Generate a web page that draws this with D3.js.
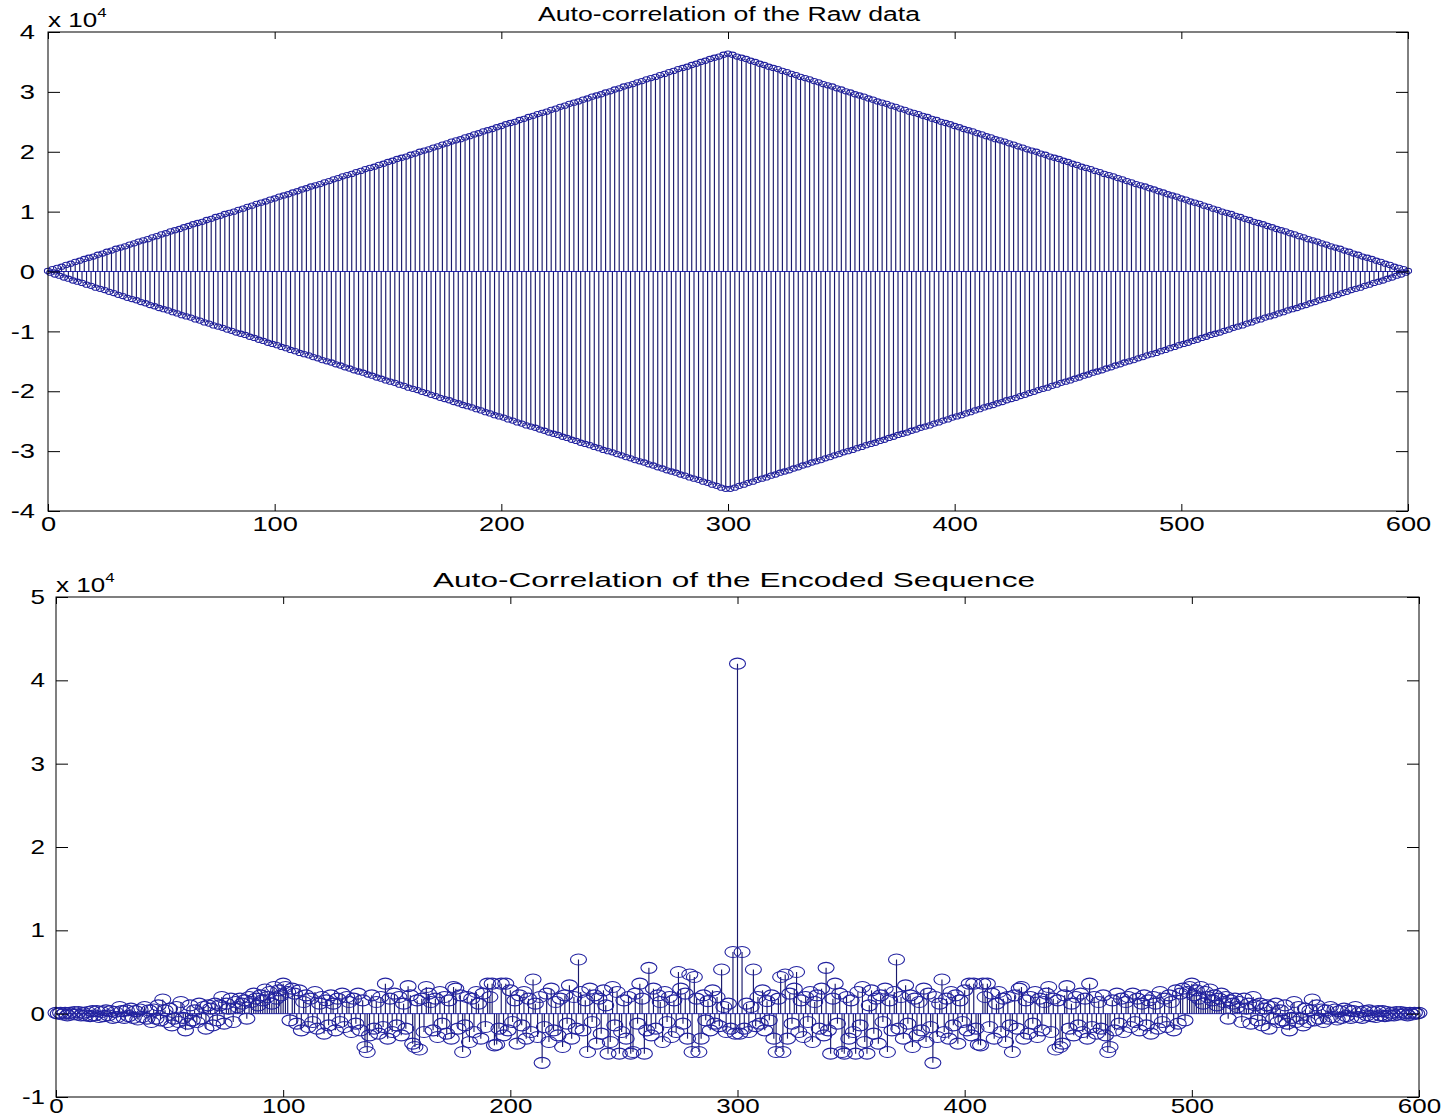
<!DOCTYPE html>
<html>
<head>
<meta charset="utf-8">
<script src="https://cdn.jsdelivr.net/npm/d3@7"></script>
<style>
  body { margin: 0; background: #fff; }
  svg { display: block; font-family: "Liberation Sans", Arial, sans-serif; }
</style>
</head>
<body>
<div id="chart"></div>
<script>
// values in units of 10^4, indexed by lag 0..300 (autocorrelation is symmetric about n = 300)
const rawLagValues = [
  3.64, -3.63, 3.62, -3.61, 3.59, -3.58, 3.57, -3.56, 3.55, -3.53,
  3.52, -3.51, 3.50, -3.48, 3.47, -3.46, 3.45, -3.44, 3.42, -3.41,
  3.40, -3.39, 3.38, -3.36, 3.35, -3.34, 3.33, -3.32, 3.30, -3.29,
  3.28, -3.27, 3.25, -3.24, 3.23, -3.22, 3.21, -3.19, 3.18, -3.17,
  3.16, -3.15, 3.13, -3.12, 3.11, -3.10, 3.09, -3.07, 3.06, -3.05,
  3.04, -3.02, 3.01, -3.00, 2.99, -2.98, 2.96, -2.95, 2.94, -2.93,
  2.92, -2.90, 2.89, -2.88, 2.87, -2.86, 2.84, -2.83, 2.82, -2.81,
  2.80, -2.78, 2.77, -2.76, 2.75, -2.73, 2.72, -2.71, 2.70, -2.69,
  2.67, -2.66, 2.65, -2.64, 2.63, -2.61, 2.60, -2.59, 2.58, -2.57,
  2.55, -2.54, 2.53, -2.52, 2.50, -2.49, 2.48, -2.47, 2.46, -2.44,
  2.43, -2.42, 2.41, -2.40, 2.38, -2.37, 2.36, -2.35, 2.34, -2.32,
  2.31, -2.30, 2.29, -2.27, 2.26, -2.25, 2.24, -2.23, 2.21, -2.20,
  2.19, -2.18, 2.17, -2.15, 2.14, -2.13, 2.12, -2.11, 2.09, -2.08,
  2.07, -2.06, 2.04, -2.03, 2.02, -2.01, 2.00, -1.98, 1.97, -1.96,
  1.95, -1.94, 1.92, -1.91, 1.90, -1.89, 1.88, -1.86, 1.85, -1.84,
  1.83, -1.82, 1.80, -1.79, 1.78, -1.77, 1.75, -1.74, 1.73, -1.72,
  1.71, -1.69, 1.68, -1.67, 1.66, -1.65, 1.63, -1.62, 1.61, -1.60,
  1.59, -1.57, 1.56, -1.55, 1.54, -1.52, 1.51, -1.50, 1.49, -1.48,
  1.46, -1.45, 1.44, -1.43, 1.42, -1.40, 1.39, -1.38, 1.37, -1.36,
  1.34, -1.33, 1.32, -1.31, 1.29, -1.28, 1.27, -1.26, 1.25, -1.23,
  1.22, -1.21, 1.20, -1.19, 1.17, -1.16, 1.15, -1.14, 1.13, -1.11,
  1.10, -1.09, 1.08, -1.06, 1.05, -1.04, 1.03, -1.02, 1.00, -0.99,
  0.98, -0.97, 0.96, -0.94, 0.93, -0.92, 0.91, -0.90, 0.88, -0.87,
  0.86, -0.85, 0.83, -0.82, 0.81, -0.80, 0.79, -0.77, 0.76, -0.75,
  0.74, -0.73, 0.71, -0.70, 0.69, -0.68, 0.67, -0.65, 0.64, -0.63,
  0.62, -0.61, 0.59, -0.58, 0.57, -0.56, 0.54, -0.53, 0.52, -0.51,
  0.50, -0.48, 0.47, -0.46, 0.45, -0.44, 0.42, -0.41, 0.40, -0.39,
  0.38, -0.36, 0.35, -0.34, 0.33, -0.31, 0.30, -0.29, 0.28, -0.27,
  0.25, -0.24, 0.23, -0.22, 0.21, -0.19, 0.18, -0.17, 0.16, -0.15,
  0.13, -0.12, 0.11, -0.10, 0.08, -0.07, 0.06, -0.05, 0.04, -0.02,
  0.01
];

const encodedLagValues = [
  4.20, -0.24, 0.74, -0.18, 0.12, -0.22, 0.08, 0.53, -0.15, 0.20,
  -0.12, 0.28, -0.20, 0.15, -0.08, 0.22, -0.30, -0.46, 0.18, 0.44,
  -0.46, 0.47, -0.30, 0.24, -0.12, 0.30, 0.50, -0.22, 0.16, -0.28,
  0.20, -0.10, 0.26, -0.34, 0.14, 0.22, -0.18, 0.30, -0.26, 0.55,
  -0.20, -0.48, 0.18, 0.36, -0.12, 0.24, -0.46, -0.48, 0.20, -0.30,
  0.16, -0.22, -0.48, 0.26, -0.14, 0.32, -0.34, -0.48, 0.10, 0.28,
  -0.24, 0.18, -0.36, 0.22, -0.10, 0.30, -0.46, 0.16, -0.20, 0.26,
  0.65, -0.18, 0.20, -0.30, 0.34, -0.12, 0.22, -0.40, 0.18, -0.26,
  0.14, -0.20, 0.30, -0.34, 0.24, -0.16, -0.59, 0.20, -0.28, 0.12,
  0.41, -0.22, 0.18, -0.30, 0.26, -0.14, 0.22, -0.36, 0.16, -0.10,
  0.28, -0.20, 0.36, -0.26, 0.36, -0.18, -0.37, -0.38, 0.36, 0.20,
  0.36, -0.16, 0.24, -0.30, 0.12, 0.26, -0.22, 0.18, -0.34, 0.20,
  -0.14, -0.46, 0.22, -0.18, 0.30, 0.32, -0.30, 0.16, -0.24, 0.20,
  -0.12, 0.26, -0.28, 0.18, -0.20, 0.14, 0.24, 0.32, -0.22, 0.18,
  -0.43, 0.16, -0.40, -0.36, 0.22, 0.33, -0.18, 0.12, -0.26, 0.20,
  -0.14, 0.24, -0.22, 0.18, -0.30, 0.36, -0.16, 0.20, -0.24, 0.14,
  -0.18, 0.22, -0.26, -0.46, -0.40, 0.16, -0.20, 0.24, -0.12, 0.18,
  -0.22, 0.14, 0.20, -0.16, 0.24, -0.10, 0.18, -0.20, 0.12, 0.22,
  -0.14, 0.16, -0.24, 0.20, 0.12, -0.18, 0.26, -0.10, 0.18, -0.16,
  0.22, 0.14, -0.20, 0.28, -0.12, 0.24, 0.30, -0.08, 0.26, 0.32,
  0.36, 0.22, 0.28, 0.18, 0.32, 0.12, 0.26, 0.20, 0.29, 0.16,
  0.22, 0.10, 0.18, 0.24, 0.14, 0.20, -0.06, 0.16, 0.12, 0.18,
  0.08, 0.14, -0.10, 0.18, 0.06, 0.12, -0.12, 0.20, 0.10, -0.08,
  0.12, -0.14, 0.06, 0.10, -0.18, 0.08, -0.06, 0.12, -0.10, 0.04,
  -0.08, 0.10, -0.12, -0.20, -0.05, 0.14, -0.10, 0.08, -0.06, -0.14,
  0.06, -0.10, 0.04, 0.17, -0.08, 0.10, -0.06, 0.05, -0.10, 0.04,
  -0.06, 0.08, -0.04, 0.05, -0.07, 0.03, -0.05, 0.06, -0.03, 0.04,
  -0.05, 0.03, 0.08, -0.04, 0.02, -0.05, 0.03, -0.02, 0.04, -0.03,
  0.02, -0.04, 0.03, -0.02, 0.03, -0.03, 0.02, -0.02, 0.01, -0.02,
  0.02, -0.01, 0.02, -0.01, 0.01, -0.02, 0.01, -0.01, 0.01, 0.00,
  0.01
];

const xTicks = [0, 100, 200, 300, 400, 500, 600];
const rawYTicks = [-4, -3, -2, -1, 0, 1, 2, 3, 4];
const encodedYTicks = [-1, 0, 1, 2, 3, 4, 5];
const rawTitle = "Auto-correlation of the Raw data";
const encodedTitle = "Auto-Correlation of the Encoded Sequence";
const exponent = "4";

// lag values -> samples n = 0..600
function mirrorLags(lagValues) {
  const center = lagValues.length - 1;
  return d3.range(0, 2 * center + 1).map(n => ({ n: n, v: lagValues[Math.abs(n - center)] }));
}

const svg = d3.select("#chart").append("svg")
  .attr("width", 1447)
  .attr("height", 1119);

const stretch = 1.3; // the picture is wider than it is tall

function stemPlot(cfg) {
  const data = mirrorLags(cfg.lags);
  const x = d3.scaleLinear().domain([0, 600]).range([cfg.left, cfg.right]);
  const y = d3.scaleLinear().domain(cfg.yDomain).range([cfg.bottom, cfg.top]);
  const g = svg.append("g");

  // baseline
  g.append("line")
    .attr("x1", x(0)).attr("x2", x(600))
    .attr("y1", y(0)).attr("y2", y(0))
    .attr("stroke", "#2424c0").attr("stroke-width", 1);

  g.selectAll("line.stem").data(data).join("line")
    .attr("class", "stem")
    .attr("x1", d => x(d.n)).attr("x2", d => x(d.n))
    .attr("y1", y(0)).attr("y2", d => y(d.v))
    .attr("stroke", "#1a1a6c")
    .attr("stroke-width", 1.15);

  g.selectAll("ellipse").data(data).join("ellipse")
    .attr("cx", d => x(d.n))
    .attr("cy", d => y(d.v))
    .attr("rx", cfg.rx).attr("ry", cfg.ry)
    .attr("fill", "none")
    .attr("stroke", "#2222a0")
    .attr("stroke-width", 1.1);

  // frame
  g.append("rect")
    .attr("x", cfg.left).attr("y", cfg.top)
    .attr("width", cfg.right - cfg.left).attr("height", cfg.bottom - cfg.top)
    .attr("fill", "none").attr("stroke", "#000").attr("stroke-width", 1);

  const fmt = d => String(d);

  const bottomAxis = g.append("g")
    .attr("transform", `translate(0,${cfg.bottom})`)
    .call(d3.axisBottom(x).tickValues(xTicks).tickSizeInner(-7).tickSizeOuter(0).tickPadding(cfg.xPad).tickFormat(fmt));
  g.append("g")
    .attr("transform", `translate(0,${cfg.top})`)
    .call(d3.axisTop(x).tickValues(xTicks).tickSizeInner(-7).tickSizeOuter(0).tickFormat(""));
  const leftAxis = g.append("g")
    .attr("transform", `translate(${cfg.left},0)`)
    .call(d3.axisLeft(y).tickValues(cfg.yTicks).tickSizeInner(-12).tickSizeOuter(0).tickPadding(cfg.yPad).tickFormat(fmt));
  g.append("g")
    .attr("transform", `translate(${cfg.right},0)`)
    .call(d3.axisRight(y).tickValues(cfg.yTicks).tickSizeInner(-12).tickSizeOuter(0).tickFormat(""));

  g.selectAll(".domain").remove();
  g.selectAll(".tick line").attr("stroke", "#000");
  g.selectAll(".tick text")
    .attr("fill", "#000")
    .style("font-size", cfg.tickSize + "px")
    .style("font-family", "'Liberation Sans', Arial, sans-serif");
  bottomAxis.selectAll(".tick text").attr("transform", `scale(${stretch},1)`);
  leftAxis.selectAll(".tick text")
    .attr("x", -cfg.yPad / stretch)
    .attr("transform", `scale(${stretch},1)`);

  // title
  g.append("text")
    .attr("x", cfg.titleX).attr("y", cfg.titleY)
    .attr("text-anchor", "middle")
    .attr("textLength", cfg.titleWidth)
    .attr("lengthAdjust", "spacingAndGlyphs")
    .style("font-size", cfg.titleSize + "px")
    .attr("fill", "#000")
    .text(cfg.title);

  // x 10^4 multiplier
  const ex = g.append("text")
    .attr("transform", `translate(${cfg.left},${cfg.top - 5}) scale(${stretch},1)`)
    .style("font-size", "20px")
    .attr("fill", "#000");
  ex.append("tspan").text("x 10");
  ex.append("tspan").attr("dy", -10).style("font-size", "13px").text(exponent);
}

stemPlot({
  lags: rawLagValues,
  left: 48, right: 1408, top: 32, bottom: 511,
  yDomain: [-4, 4], yTicks: rawYTicks, yPad: 13, xPad: 5, tickSize: 21,
  rx: 3.6, ry: 2.6,
  title: rawTitle, titleX: 729, titleY: 21, titleWidth: 382, titleSize: 20
});

stemPlot({
  lags: encodedLagValues,
  left: 56, right: 1419, top: 597, bottom: 1097,
  yDomain: [-1, 5], yTicks: encodedYTicks, yPad: 11, xPad: 2, tickSize: 20,
  rx: 8, ry: 5.5,
  title: encodedTitle, titleX: 734, titleY: 587, titleWidth: 602, titleSize: 21
});
</script>
</body>
</html>
